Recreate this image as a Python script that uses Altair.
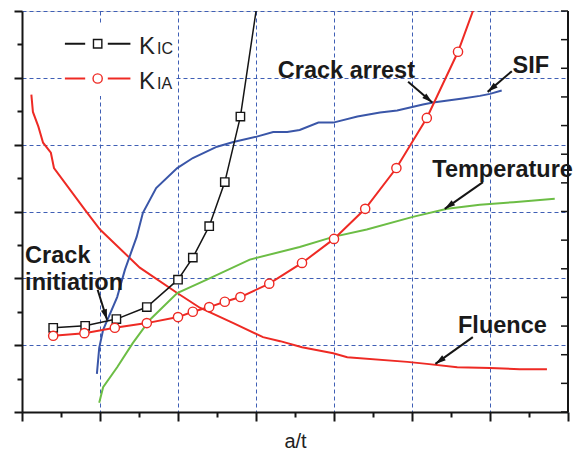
import math
import altair as alt
import pandas as pd

# ---------------- data (x in a/t grid units, y in chart units) ----------------
kic_x = [0.40, 0.81, 1.21, 1.60, 2.00, 2.19, 2.40, 2.60, 2.80, 3.03]
kic_y = [1.26, 1.29, 1.39, 1.57, 1.98, 2.31, 2.78, 3.44, 4.42, 6.23]
kic_n_markers = 9

kia_x = [0.40, 0.80, 1.19, 1.60, 2.00, 2.19, 2.40, 2.60, 2.80, 3.17, 3.59, 4.00, 4.40, 4.80, 5.19, 5.59, 5.85]
kia_y = [1.14, 1.18, 1.26, 1.33, 1.42, 1.50, 1.57, 1.65, 1.72, 1.92, 2.23, 2.59, 3.04, 3.65, 4.40, 5.39, 6.22]
kia_n_markers = 16

sif_x = [0.96, 0.99, 1.04, 1.22, 1.32, 1.47, 1.55, 1.72, 1.99, 2.19, 2.50, 2.71, 3.01, 3.22,
         3.40, 3.56, 3.80, 3.99, 4.30, 4.59, 4.81, 5.14, 5.27, 5.65, 5.87, 6.00, 6.15]
sif_y = [0.57, 0.96, 1.23, 1.72, 2.13, 2.62, 2.98, 3.35, 3.65, 3.80, 3.97, 4.04, 4.12, 4.19,
         4.19, 4.22, 4.33, 4.33, 4.42, 4.48, 4.51, 4.60, 4.63, 4.69, 4.73, 4.76, 4.81]

temp_x = [0.99, 1.04, 1.22, 1.42, 1.64, 1.99, 2.37, 2.92, 3.56, 3.99, 4.42, 5.01, 5.45, 5.87, 6.30, 6.83]
temp_y = [0.14, 0.37, 0.67, 1.03, 1.38, 1.78, 1.98, 2.28, 2.47, 2.62, 2.73, 2.92, 3.04, 3.10, 3.14, 3.19]

flu_x = [0.12, 0.14, 0.21, 0.27, 0.37, 0.41, 0.81, 1.00, 1.51, 1.99, 2.28, 2.71, 3.09, 3.31,
         3.59, 3.99, 4.17, 4.94, 5.19, 5.58, 6.00, 6.38, 6.73]
flu_y = [4.75, 4.49, 4.27, 4.03, 3.88, 3.65, 3.02, 2.73, 2.16, 1.78, 1.56, 1.33, 1.12, 1.06,
         0.97, 0.88, 0.82, 0.75, 0.72, 0.67, 0.66, 0.64, 0.64]

# annotations
ann_text = ["Crack arrest", "SIF", "Temperature", "Fluence", "Crack", "initiation"]
ann_x = [3.28, 6.29, 5.26, 5.59, 0.04, 0.04]
ann_y = [5.00, 5.07, 3.52, 1.18, 2.23, 1.83]

arrow_x1 = [4.95, 6.28, 5.91, 5.78, 0.97]
arrow_y1 = [4.94, 5.10, 3.44, 1.12, 1.83]
arrow_x2 = [5.26, 5.97, 5.42, 5.30, 1.09]
arrow_y2 = [4.63, 4.79, 3.04, 0.72, 1.38]

# legend
legend_series = ["KIC", "KIA"]
legend_main = ["K", "K"]
legend_sub = ["IC", "IA"]
legend_y = [5.51, 4.99]
legend_seg_a = [0.55, 0.81]
legend_seg_b = [1.10, 1.39]
legend_marker_x = 0.97
legend_text_x = 1.50
legend_sub_x = 1.73

# axes
x_ticks = [0, 0.5, 1, 1.5, 2, 2.5, 3, 3.5, 4, 4.5, 5, 5.5, 6, 6.5, 7]
y_ticks = [0, 0.5, 1, 1.5, 2, 2.5, 3, 3.5, 4, 4.5, 5, 5.5, 6]
right_ticks = [0, 1, 2, 3, 4, 5, 6, 7, 8, 9, 10, 11, 12, 13, 14]

# ---------------- styling ----------------
W, H = 546, 401
XDOM, YDOM = [0, 7], [0, 6]
BLACK = "#151515"
RED = "#ee2a24"
BLUE = "#3a56a8"
GREEN = "#6cbd45"
GRID = "#3f5fb5"
FONT = "Liberation Sans"

xs = alt.Scale(domain=XDOM, nice=False, zero=False)
ys = alt.Scale(domain=YDOM, nice=False, zero=False)

minor = "datum.value % 1 !== 0"
x_axis = alt.Axis(values=x_ticks, labels=False, title="a/t", titleFont=FONT, titleFontSize=20,
                  titleFontWeight="normal", titleColor="#222222", titleY=35, titleBaseline="alphabetic",
                  domainColor=BLACK, domainWidth=2, tickColor=BLACK, tickWidth=2,
                  tickSize={"condition": {"test": minor, "value": 5}, "value": 9},
                  grid=True, gridColor=GRID, gridDash=[4, 3], gridWidth=1,
                  gridOpacity={"condition": {"test": minor, "value": 0}, "value": 1})
y_axis = alt.Axis(values=y_ticks, labels=False, title=None,
                  domainColor=BLACK, domainWidth=2, tickColor=BLACK, tickWidth=2,
                  tickSize={"condition": {"test": minor, "value": 5}, "value": 8},
                  grid=True, gridColor=GRID, gridDash=[4, 3], gridWidth=1,
                  gridOpacity={"condition": {"test": minor, "value": 0}, "value": 1})


def X(field):
    return alt.X(field, type="quantitative", scale=xs, axis=x_axis)


def Y(field):
    return alt.Y(field, type="quantitative", scale=ys, axis=y_axis)


def series_df(xv, yv):
    return pd.DataFrame({"x": xv, "y": yv, "idx": list(range(len(xv)))})


def line(df, color, width):
    return alt.Chart(df).mark_line(color=color, strokeWidth=width, clip=True).encode(
        x=X("x"), y=Y("y"), order="idx:Q")


flu = line(series_df(flu_x, flu_y), RED, 2)
temp = line(series_df(temp_x, temp_y), GREEN, 2)
sif = line(series_df(sif_x, sif_y), BLUE, 2)
kic = line(series_df(kic_x, kic_y), BLACK, 1.5)
kia = line(series_df(kia_x, kia_y), RED, 2)

kic_pts = alt.Chart(series_df(kic_x[:kic_n_markers], kic_y[:kic_n_markers])).mark_point(
    shape="square", size=70, filled=True, fill="white", stroke=BLACK, strokeWidth=1.4, opacity=1
).encode(x=X("x"), y=Y("y"))
kia_pts = alt.Chart(series_df(kia_x[:kia_n_markers], kia_y[:kia_n_markers])).mark_point(
    shape="circle", size=85, filled=True, fill="white", stroke=RED, strokeWidth=1.4, opacity=1
).encode(x=X("x"), y=Y("y"))

# legend
leg_bg = alt.Chart(pd.DataFrame({"x": [0.52], "x2": [1.97], "y": [4.73], "y2": [5.79]})).mark_rect(
    color="white").encode(x=X("x"), x2="x2:Q", y=Y("y"), y2="y2:Q")
seg_rows = []
for s, yv in zip(legend_series, legend_y):
    seg_rows.append({"s": s, "x": legend_seg_a[0], "x2": legend_seg_a[1], "y": yv})
    seg_rows.append({"s": s, "x": legend_seg_b[0], "x2": legend_seg_b[1], "y": yv})
leg_segs = alt.Chart(pd.DataFrame(seg_rows)).mark_rule(strokeWidth=2).encode(
    x=X("x"), x2="x2:Q", y=Y("y"),
    color=alt.Color("s:N", scale=alt.Scale(domain=legend_series, range=[BLACK, RED]), legend=None))
leg_sq = alt.Chart(pd.DataFrame({"x": [legend_marker_x], "y": [legend_y[0]]})).mark_point(
    shape="square", size=70, filled=True, fill="white", stroke=BLACK, strokeWidth=1.4, opacity=1
).encode(x=X("x"), y=Y("y"))
leg_ci = alt.Chart(pd.DataFrame({"x": [legend_marker_x], "y": [legend_y[1]]})).mark_point(
    shape="circle", size=85, filled=True, fill="white", stroke=RED, strokeWidth=1.4, opacity=1
).encode(x=X("x"), y=Y("y"))
leg_df = pd.DataFrame({"t": legend_main, "sub": legend_sub, "y": [v - 0.16 for v in legend_y],
                       "x": [legend_text_x] * 2, "xs": [legend_sub_x] * 2})
leg_main = alt.Chart(leg_df).mark_text(font=FONT, fontSize=24, align="left", baseline="alphabetic",
                                       color="#222222").encode(x=X("x"), y=Y("y"), text="t:N")
leg_sub = alt.Chart(leg_df).mark_text(font=FONT, fontSize=16, align="left", baseline="alphabetic",
                                      color="#222222").encode(x=X("xs"), y=Y("y"), text="sub:N")

# annotations
ann = alt.Chart(pd.DataFrame({"t": ann_text, "x": ann_x, "y": ann_y})).mark_text(
    font=FONT, fontSize=23.5, fontWeight="bold", align="left", baseline="alphabetic", color="#1a1a1a"
).encode(x=X("x"), y=Y("y"), text="t:N")

px_x, px_y = W / (XDOM[1] - XDOM[0]), H / (YDOM[1] - YDOM[0])
angles = []
for a, b, c, d in zip(arrow_x1, arrow_y1, arrow_x2, arrow_y2):
    dx, dy = (c - a) * px_x, -(d - b) * px_y
    angles.append(math.degrees(math.atan2(dx, -dy)) % 360)
arr_df = pd.DataFrame({"x": arrow_x1, "y": arrow_y1, "x2": arrow_x2, "y2": arrow_y2, "ang": angles})
arr_lines = alt.Chart(arr_df).mark_rule(color=BLACK, strokeWidth=2).encode(
    x=X("x"), y=Y("y"), x2="x2:Q", y2="y2:Q")
arr_heads = alt.Chart(arr_df).mark_point(
    shape="M0,0L0.62,2.1L-0.62,2.1Z", size=100, filled=True, color=BLACK, opacity=1
).encode(x=X("x2"), y=Y("y2"), angle=alt.Angle("ang:Q", scale=None))

# right frame line
right_line = alt.Chart(pd.DataFrame({"x": [XDOM[1]]})).mark_rule(color=BLACK, strokeWidth=2).encode(
    x=X("x"), y=alt.value(0), y2=alt.value(H))

main = alt.layer(flu, temp, sif, kic, kia, kic_pts, kia_pts, right_line,
                 leg_bg, leg_segs, leg_sq, leg_ci, leg_main, leg_sub,
                 arr_lines, arr_heads, ann)

right_ticks_layer = alt.Chart(pd.DataFrame({"v": right_ticks})).mark_rule(
    color=BLACK, strokeWidth=1.5).encode(
    y=alt.Y("v:Q", scale=alt.Scale(domain=[0, 14], nice=False, zero=False), axis=None),
    x=alt.value(W - 7), x2=alt.value(W))

chart = alt.layer(main, right_ticks_layer).resolve_scale(y="independent").properties(
    width=W, height=H,
    padding={"left": 14, "top": 3, "right": 11, "bottom": 38},
    autosize=alt.AutoSizeParams(type="none"),
).configure_view(stroke=None).configure(background="white")

chart.save("out.html", embed_options={"renderer": "svg", "actions": False})
